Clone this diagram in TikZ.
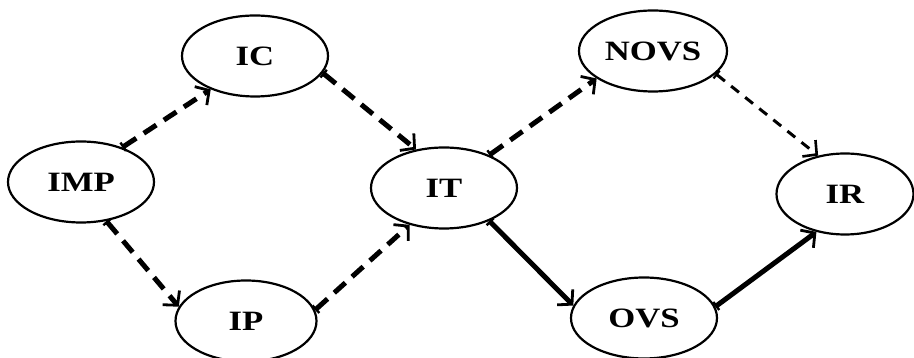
\documentclass[tikz,border=0pt]{standalone}
\usepackage{fontspec}
\usetikzlibrary{arrows.meta,shapes.geometric}
\newfontfamily\lblfont[FakeStretch=1.24]{Liberation Serif}
\newcommand{\SLab}{\lblfont\fontsize{28}{30}\selectfont\bfseries}

\begin{document}
\begin{tikzpicture}[x=1pt, y=1pt,
  bubble/.style={ellipse, draw=black, line width=2.2pt, fill=white,
                 minimum width=146pt, minimum height=81pt, inner sep=0pt,
                 font=\SLab},
  linkarrow/.style={{Bar[width=10pt,line width=2.4pt]}-{Straight Barb[length=10pt,width=22pt,line width=2.8pt]},
                    draw=black, line width=5pt},
  dasharrow/.style={linkarrow, dash pattern=on 15pt off 9pt},
  thinarrow/.style={{Bar[width=10pt,line width=2.2pt]}-{Straight Barb[length=10pt,width=21pt,line width=2.6pt]},
                    draw=black, line width=3pt, dash pattern=on 10pt off 8pt}
]
\useasboundingbox (0,0) rectangle (914,358);

% Nodes, left to right.
\node[bubble] (imp) at (81,176) {IMP};
\node[bubble] (ic) at (255,302) {IC};
\node[bubble, minimum width=141pt] (ip) at (246,37) {IP};
\node[bubble] (it) at (444,170) {IT};
\node[bubble, minimum width=148pt] (novs) at (653,307) {NOVS};
\node[bubble] (ovs) at (644,40) {OVS};
\node[bubble, minimum width=137pt] (ir) at (845,164) {IR};

% Dashed links.
\draw[dasharrow] (imp.40) -- (ic.217);
\draw[dasharrow] (ic.346) -- (it.126);
\draw[dasharrow] (imp.303) -- (ip.168);
\draw[dasharrow] (ip.9) -- (it.227);
\draw[dasharrow] (it.36) -- (novs.206);
\draw[thinarrow] (novs.340) -- (ir.125);

% Solid links.
\draw[linkarrow] (it.324) -- (ovs.170);
\draw[linkarrow] (ovs.9) -- (ir.233);
\end{tikzpicture}
\end{document}
